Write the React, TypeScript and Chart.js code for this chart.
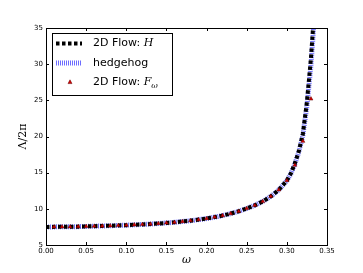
import React, { useEffect, useRef } from "react";
import { Chart, registerables } from "chart.js";

Chart.register(...registerables);

// 2D Flow: H (line)
const hOmega = [0, 0.02, 0.04, 0.06, 0.08, 0.1, 0.12, 0.14, 0.16, 0.18, 0.2, 0.21, 0.22, 0.23, 0.24, 0.25, 0.26, 0.27, 0.28, 0.29, 0.3, 0.305, 0.31, 0.315, 0.32, 0.325, 0.33, 0.3345];
const hLambda = [7.5, 7.51, 7.54, 7.6, 7.66, 7.74, 7.84, 7.97, 8.14, 8.36, 8.66, 8.85, 9.07, 9.34, 9.66, 10.05, 10.48, 11.02, 11.72, 12.62, 13.92, 14.9, 16.3, 18.0, 20.4, 24.8, 30.8, 38.0];

// hedgehog (line)
const hedgehogOmega = [0, 0.02, 0.04, 0.06, 0.08, 0.1, 0.12, 0.14, 0.16, 0.18, 0.2, 0.21, 0.22, 0.23, 0.24, 0.25, 0.26, 0.27, 0.28, 0.29, 0.3, 0.305, 0.31, 0.315, 0.32, 0.325, 0.33, 0.335];
const hedgehogLambda = [7.5, 7.51, 7.54, 7.6, 7.66, 7.74, 7.84, 7.97, 8.14, 8.36, 8.66, 8.85, 9.07, 9.34, 9.66, 10.05, 10.48, 11.02, 11.72, 12.62, 13.92, 14.85, 16.2, 17.9, 20.2, 24.2, 29.8, 37.5];

// 2D Flow: F_omega (markers)
const fOmega = [0.01, 0.02, 0.03, 0.04, 0.05, 0.06, 0.07, 0.08, 0.09, 0.1, 0.11, 0.12, 0.13, 0.14, 0.15, 0.16, 0.17, 0.18, 0.19, 0.2, 0.21, 0.22, 0.23, 0.24, 0.25, 0.26, 0.27, 0.28, 0.29, 0.3, 0.31, 0.32, 0.33];
const fLambda = [7.5, 7.51, 7.52, 7.54, 7.57, 7.6, 7.63, 7.66, 7.7, 7.74, 7.79, 7.84, 7.9, 7.97, 8.05, 8.14, 8.24, 8.36, 8.5, 8.66, 8.85, 9.07, 9.34, 9.66, 10.05, 10.48, 11.02, 11.72, 12.62, 13.92, 16.05, 19.35, 25.2];

const xTicks = [0, 0.05, 0.1, 0.15, 0.2, 0.25, 0.3, 0.35];
const yTicks = [5, 10, 15, 20, 25, 30, 35];

const legendLabels = ["2D Flow: ", "hedgehog", "2D Flow: "];

const toPts = (xs: number[], ys: number[]) => xs.map((x, i) => ({ x, y: ys[i] }));

const H_STYLE = { color: "#000000", width: 4, dash: [3.5, 2.5] };
const HEDGE_STYLE = { color: "rgba(60,60,255,0.75)", width: 5, dash: [1, 1] };

const framePlugin = {
  id: "frameAndLegend",
  afterDraw(chart: any) {
    const { ctx, chartArea: a, scales } = chart;
    ctx.save();
    // frame
    ctx.strokeStyle = "#000";
    ctx.lineWidth = 1;
    ctx.setLineDash([]);
    ctx.strokeRect(Math.round(a.left) + 0.5, Math.round(a.top) + 0.5, Math.round(a.right - a.left), Math.round(a.bottom - a.top));
    // inward ticks
    const tl = 3;
    ctx.beginPath();
    xTicks.forEach((v) => {
      const px = Math.round(scales.x.getPixelForValue(v)) + 0.5;
      ctx.moveTo(px, a.bottom);
      ctx.lineTo(px, a.bottom - tl);
      ctx.moveTo(px, a.top);
      ctx.lineTo(px, a.top + tl);
    });
    yTicks.forEach((v) => {
      const py = Math.round(scales.y.getPixelForValue(v)) + 0.5;
      ctx.moveTo(a.left, py);
      ctx.lineTo(a.left + tl, py);
      ctx.moveTo(a.right, py);
      ctx.lineTo(a.right - tl, py);
    });
    ctx.stroke();

    // axis titles
    ctx.fillStyle = "#000";
    ctx.textAlign = "center";
    ctx.textBaseline = "middle";
    ctx.font = "italic 11px 'DejaVu Serif'";
    ctx.fillText("ω", (a.left + a.right) / 2, 260);
    ctx.save();
    ctx.translate(23, (a.top + a.bottom) / 2);
    ctx.rotate(-Math.PI / 2);
    ctx.font = "11px 'DejaVu Serif'";
    ctx.fillText("Λ/2π", 0, 0);
    ctx.restore();

    // legend
    const lx = 52, ly = 33, lw = 120, lh = 62;
    ctx.fillStyle = "#fff";
    ctx.fillRect(lx, ly, lw, lh);
    ctx.strokeStyle = "#000";
    ctx.lineWidth = 1;
    ctx.strokeRect(lx + 0.5, ly + 0.5, lw, lh);
    const rows = [43.5, 63, 82];
    const sx0 = 56, sx1 = 82, tx = 93;
    // row 1: H line
    ctx.strokeStyle = H_STYLE.color;
    ctx.lineWidth = H_STYLE.width;
    ctx.setLineDash(H_STYLE.dash);
    ctx.beginPath();
    ctx.moveTo(sx0, rows[0]);
    ctx.lineTo(sx1, rows[0]);
    ctx.stroke();
    // row 2: hedgehog
    ctx.strokeStyle = HEDGE_STYLE.color;
    ctx.lineWidth = HEDGE_STYLE.width;
    ctx.setLineDash(HEDGE_STYLE.dash);
    ctx.beginPath();
    ctx.moveTo(sx0, rows[1]);
    ctx.lineTo(sx1, rows[1]);
    ctx.stroke();
    ctx.setLineDash([]);
    // row 3: triangle marker
    const mx = 70, my = rows[2];
    ctx.fillStyle = "#d40000";
    ctx.strokeStyle = "#600000";
    ctx.lineWidth = 0.5;
    ctx.beginPath();
    ctx.moveTo(mx, my - 2.2);
    ctx.lineTo(mx + 2, my + 1.6);
    ctx.lineTo(mx - 2, my + 1.6);
    ctx.closePath();
    ctx.fill();
    ctx.stroke();

    ctx.fillStyle = "#000";
    ctx.textAlign = "left";
    ctx.textBaseline = "middle";
    ctx.font = "11px 'DejaVu Sans'";
    ctx.fillText(legendLabels[0], tx, rows[0]);
    let w = ctx.measureText(legendLabels[0]).width;
    ctx.font = "italic 11px 'DejaVu Serif'";
    ctx.fillText("H", tx + w, rows[0]);

    ctx.font = "11px 'DejaVu Sans'";
    ctx.fillText(legendLabels[1], tx, rows[1]);

    ctx.fillText(legendLabels[2], tx, rows[2]);
    w = ctx.measureText(legendLabels[2]).width;
    ctx.font = "italic 11px 'DejaVu Serif'";
    ctx.fillText("F", tx + w, rows[2]);
    const fw = ctx.measureText("F").width;
    ctx.font = "italic 8px 'DejaVu Serif'";
    ctx.fillText("ω", tx + w + fw, rows[2] + 3.5);
    ctx.restore();
  },
};

export default function App() {
  const ref = useRef<HTMLCanvasElement | null>(null);
  useEffect(() => {
    document.body.style.margin = "0";
    const canvas = ref.current!;
    const chart = new Chart(canvas, {
      type: "scatter",
      data: {
        datasets: [
          {
            label: "hedgehog",
            data: toPts(hedgehogOmega, hedgehogLambda),
            showLine: true,
            borderColor: HEDGE_STYLE.color,
            borderWidth: HEDGE_STYLE.width,
            borderDash: HEDGE_STYLE.dash,
            pointRadius: 0,
            tension: 0,
            order: 3,
          },
          {
            label: "2D Flow: H",
            data: toPts(hOmega, hLambda),
            showLine: true,
            borderColor: H_STYLE.color,
            borderWidth: H_STYLE.width,
            borderDash: H_STYLE.dash,
            borderCapStyle: "butt",
            pointRadius: 0,
            tension: 0,
            order: 2,
          },
          {
            label: "2D Flow: F_ω",
            data: toPts(fOmega, fLambda),
            showLine: false,
            pointStyle: "triangle",
            pointRadius: 2.3,
            backgroundColor: "#d40000",
            borderColor: "#600000",
            borderWidth: 0.5,
            order: 1,
          },
        ],
      },
      options: {
        responsive: false,
        animation: false,
        devicePixelRatio: 1,
        layout: { padding: { left: 0, top: 28, right: 36, bottom: 0 } },
        plugins: { legend: { display: false }, tooltip: { enabled: false } },
        scales: {
          x: {
            type: "linear",
            min: 0,
            max: 0.35,
            afterFit: (s: any) => { s.height = 28; },
            afterBuildTicks: (s: any) => { s.ticks = xTicks.map((v) => ({ value: v })); },
            grid: { display: false, drawTicks: false },
            border: { display: false },
            ticks: {
              padding: 2,
              color: "#000",
              font: { family: "'DejaVu Sans'", size: 7 },
              callback: (v: any) => Number(v).toFixed(2),
            },
          },
          y: {
            type: "linear",
            min: 5,
            max: 35,
            afterFit: (s: any) => { s.width = 46; },
            afterBuildTicks: (s: any) => { s.ticks = yTicks.map((v) => ({ value: v })); },
            grid: { display: false, drawTicks: false },
            border: { display: false },
            ticks: {
              padding: 3,
              color: "#000",
              font: { family: "'DejaVu Sans'", size: 7 },
              callback: (v: any) => String(v),
            },
          },
        },
      },
      plugins: [framePlugin],
    });
    return () => chart.destroy();
  }, []);
  return <canvas ref={ref} width={363} height={273} style={{ display: "block", width: 363, height: 273 }} />;
}
